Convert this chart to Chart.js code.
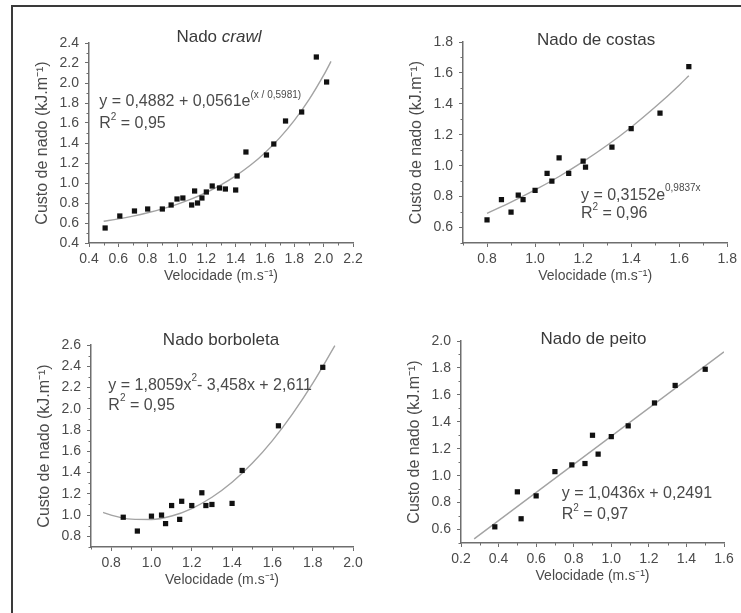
<!DOCTYPE html>
<html>
<head>
<meta charset="utf-8">
<script src="https://cdn.jsdelivr.net/npm/chart.js@4/dist/chart.umd.min.js"></script>
<style>
body{margin:0;background:#fff;width:741px;height:613px;overflow:hidden;position:relative}
#frame{position:absolute;left:11px;top:5px;width:800px;height:700px;border-left:2px solid #3a3a3a;border-top:2px solid #3a3a3a}
canvas{position:absolute}
</style>
</head>
<body>
<div id="frame"></div>
<canvas id="c1" width="340" height="288" style="left:29px;top:0px"></canvas>
<canvas id="c2" width="338" height="288" style="left:403px;top:0px"></canvas>
<canvas id="c3" width="338" height="292" style="left:31px;top:300px"></canvas>
<canvas id="c4" width="340" height="288" style="left:401px;top:300px"></canvas>
<script>
// dados lidos da figura
// nado crawl
const crawlX = [0.51,0.61,0.71,0.80,0.90,0.96,1.00,1.04,1.10,1.12,1.14,1.17,1.20,1.24,1.29,1.33,1.40,1.41,1.47,1.61,1.66,1.74,1.85,1.95,2.02];
const crawlY = [0.55,0.67,0.72,0.74,0.74,0.78,0.84,0.85,0.78,0.92,0.80,0.85,0.91,0.97,0.95,0.94,0.93,1.07,1.31,1.28,1.39,1.62,1.71,2.26,2.01];
const crawlFitX = [0.5,0.6,0.7,0.8,0.9,1.0,1.1,1.2,1.3,1.4,1.5,1.6,1.7,1.8,1.9,2.0,2.05];
const crawlFitY = [0.618,0.641,0.669,0.702,0.741,0.787,0.841,0.905,0.981,1.071,1.177,1.303,1.451,1.626,1.833,2.078,2.216];
const crawlTicksX = [0.4,0.6,0.8,1.0,1.2,1.4,1.6,1.8,2.0,2.2];
const crawlTicksY = [0.4,0.6,0.8,1.0,1.2,1.4,1.6,1.8,2.0,2.2,2.4];

// nado de costas
const costasX = [0.80,0.86,0.90,0.93,0.95,1.00,1.05,1.07,1.10,1.14,1.20,1.21,1.32,1.40,1.52,1.64];
const costasY = [0.65,0.78,0.70,0.81,0.78,0.84,0.95,0.90,1.05,0.95,1.03,0.99,1.12,1.24,1.34,1.64];
const costasFitX = [0.8,0.9,1.0,1.1,1.2,1.3,1.4,1.5,1.6,1.64];
const costasFitY = [0.692,0.764,0.843,0.930,1.026,1.132,1.249,1.379,1.521,1.582];
const costasTicksX = [0.8,1.0,1.2,1.4,1.6,1.8];
const costasTicksY = [0.6,0.8,1.0,1.2,1.4,1.6,1.8];

// nado borboleta
const borbX = [0.86,0.93,1.00,1.05,1.07,1.10,1.14,1.15,1.20,1.25,1.27,1.30,1.40,1.45,1.63,1.85];
const borbY = [0.98,0.85,0.99,1.00,0.92,1.09,0.96,1.13,1.09,1.21,1.09,1.10,1.11,1.42,1.84,2.39];
const borbFitX = [0.76,0.8,0.9,1.0,1.1,1.2,1.3,1.4,1.5,1.6,1.7,1.8,1.91];
const borbFitY = [1.026,1.000,0.962,0.959,0.992,1.062,1.168,1.309,1.487,1.701,1.952,2.238,2.594];
const borbTicksX = [0.8,1.0,1.2,1.4,1.6,1.8,2.0];
const borbTicksY = [0.8,1.0,1.2,1.4,1.6,1.8,2.0,2.2,2.4,2.6];

// nado de peito
const peitoX = [0.38,0.50,0.52,0.60,0.70,0.79,0.86,0.90,0.93,1.00,1.09,1.23,1.34,1.50];
const peitoY = [0.62,0.88,0.68,0.85,1.03,1.08,1.09,1.30,1.16,1.29,1.37,1.54,1.67,1.79];
const peitoFitX = [0.27,1.6];
const peitoFitY = [0.531,1.919];
const peitoTicksX = [0.2,0.4,0.6,0.8,1.0,1.2,1.4,1.6];
const peitoTicksY = [0.6,0.8,1.0,1.2,1.4,1.6,1.8,2.0];

const FONT = 'Liberation Sans, Arial, sans-serif';
const AXIS = '#6e6e6e';
const TXT = '#4a4a4a';

function minors(ticks, min) {
  const out = [];
  if (min < ticks[0]) out.push(min);
  for (let i = 0; i < ticks.length - 1; i++) out.push((ticks[i] + ticks[i + 1]) / 2);
  return out;
}

// texto com sobrescrito / itálico
function richText(ctx, parts, x, y, center, size) {
  const fontOf = p => (p.italic ? 'italic ' : '') + (p.sup ? 10 : size) + 'px ' + FONT;
  let w = 0;
  parts.forEach(p => { ctx.font = fontOf(p); w += ctx.measureText(p.t).width; });
  let cx = center ? x - w / 2 : x;
  ctx.textBaseline = 'middle';
  ctx.textAlign = 'left';
  parts.forEach(p => {
    ctx.font = fontOf(p);
    ctx.fillText(p.t, cx, p.sup ? y - 7 : y);
    cx += ctx.measureText(p.t).width;
  });
}

const extras = {
  id: 'extras',
  afterDraw(chart, args, o) {
    const {ctx, scales: {x, y}} = chart;
    ctx.save();
    ctx.strokeStyle = AXIS;
    ctx.lineWidth = 1;
    minors(o.xt, x.min).forEach(v => {
      const px = Math.round(x.getPixelForValue(v)) + 0.5;
      ctx.beginPath(); ctx.moveTo(px, y.bottom); ctx.lineTo(px, y.bottom + 2.5); ctx.stroke();
    });
    minors(o.yt, y.min).forEach(v => {
      const py = Math.round(y.getPixelForValue(v)) + 0.5;
      ctx.beginPath(); ctx.moveTo(x.left, py); ctx.lineTo(x.left - 2.5, py); ctx.stroke();
    });
    ctx.fillStyle = '#3a3a3a';
    richText(ctx, o.title, x.getPixelForValue(o.titlePos[0]), y.getPixelForValue(o.titlePos[1]), true, 17);
    ctx.fillStyle = TXT;
    richText(ctx, o.eq, x.getPixelForValue(o.eqPos[0]), y.getPixelForValue(o.eqPos[1]), false, 16);
    richText(ctx, [{t: 'R'}, {t: '2', sup: true}, {t: ' = ' + o.r2}], x.getPixelForValue(o.eqPos[0]), y.getPixelForValue(o.r2Pos), false, 16);
    ctx.restore();
  }
};

function panel(id, p) {
  const pts = p.x.map((v, i) => ({x: v, y: p.y[i]}));
  const fit = p.fx.map((v, i) => ({x: v, y: p.fy[i]}));
  const tickFont = {family: FONT, size: 14};
  new Chart(document.getElementById(id), {
    type: 'scatter',
    data: {
      datasets: [
        {data: pts, pointStyle: 'rect', pointRadius: 3.7, backgroundColor: '#111', borderWidth: 0, order: 1},
        {data: fit, showLine: true, borderColor: '#a3a3a3', borderWidth: 1.4, pointRadius: 0,
         cubicInterpolationMode: 'monotone', order: 2}
      ]
    },
    options: {
      responsive: false,
      animation: false,
      layout: {padding: {top: p.top, right: p.right, left: 0, bottom: 0}},
      plugins: {
        legend: {display: false},
        tooltip: {enabled: false},
        extras: {xt: p.xt, yt: p.yt, title: p.title, titlePos: p.titlePos, eq: p.eq, eqPos: p.eqPos, r2: p.r2, r2Pos: p.r2Pos}
      },
      scales: {
        x: {
          type: 'linear', min: p.xr[0], max: p.xr[1],
          afterBuildTicks: s => { s.ticks = p.xt.map(v => ({value: v})); },
          afterFit: s => { s.height = 45; },
          grid: {display: true, drawOnChartArea: false, tickLength: 4, color: AXIS},
          border: {color: AXIS, width: 1.5},
          ticks: {callback: v => v.toFixed(1), color: TXT, font: tickFont, padding: 4, maxRotation: 0, autoSkip: false},
          title: {display: true, text: 'Velocidade (m.s⁻¹)', color: TXT, font: {family: FONT, size: 14}, padding: {top: 0, bottom: 3}}
        },
        y: {
          type: 'linear', min: p.yr[0], max: p.yr[1],
          afterBuildTicks: s => { s.ticks = p.yt.map(v => ({value: v})); },
          afterFit: s => { s.width = 60; },
          grid: {display: true, drawOnChartArea: false, tickLength: 4, color: AXIS},
          border: {color: AXIS, width: 1.5},
          ticks: {callback: v => v.toFixed(1), color: TXT, font: tickFont, padding: 6, autoSkip: false},
          title: {display: true, text: 'Custo de nado (kJ.m⁻¹)', color: TXT, font: {family: FONT, size: 16}, padding: {top: 4, bottom: 0}}
        }
      }
    },
    plugins: [extras]
  });
}

panel('c1', {
  x: crawlX, y: crawlY, fx: crawlFitX, fy: crawlFitY, xt: crawlTicksX, yt: crawlTicksY,
  xr: [0.4, 2.2], yr: [0.4, 2.4], top: 43, right: 16,
  title: [{t: 'Nado '}, {t: 'crawl', italic: true}], titlePos: [1.286, 2.46],
  eq: [{t: 'y = 0,4882 + 0,0561e'}, {t: '(x / 0,5981)', sup: true}], eqPos: [0.47, 1.81], r2: '0,95', r2Pos: 1.59
});
panel('c2', {
  x: costasX, y: costasY, fx: costasFitX, fy: costasFitY, xt: costasTicksX, yt: costasTicksY,
  xr: [0.7, 1.8], yr: [0.5, 1.8], top: 42, right: 13,
  title: [{t: 'Nado de costas'}], titlePos: [1.254, 1.813],
  eq: [{t: 'y = 0,3152e'}, {t: '0,9837x', sup: true}], eqPos: [1.191, 0.806], r2: '0,96', r2Pos: 0.688
});
panel('c3', {
  x: borbX, y: borbY, fx: borbFitX, fy: borbFitY, xt: borbTicksX, yt: borbTicksY,
  xr: [0.7, 2.0], yr: [0.7, 2.6], top: 45, right: 16,
  title: [{t: 'Nado borboleta'}], titlePos: [1.345, 2.641],
  eq: [{t: 'y = 1,8059x'}, {t: '2', sup: true}, {t: '- 3,458x + 2,611'}], eqPos: [0.786, 2.217], r2: '0,95', r2Pos: 2.029
});
panel('c4', {
  x: peitoX, y: peitoY, fx: peitoFitX, fy: peitoFitY, xt: peitoTicksX, yt: peitoTicksY,
  xr: [0.2, 1.6], yr: [0.5, 2.0], top: 41, right: 17,
  title: [{t: 'Nado de peito'}], titlePos: [0.905, 2.014],
  eq: [{t: 'y = 1,0436x + 0,2491'}], eqPos: [0.736, 0.864], r2: '0,97', r2Pos: 0.708
});
</script>
</body>
</html>
